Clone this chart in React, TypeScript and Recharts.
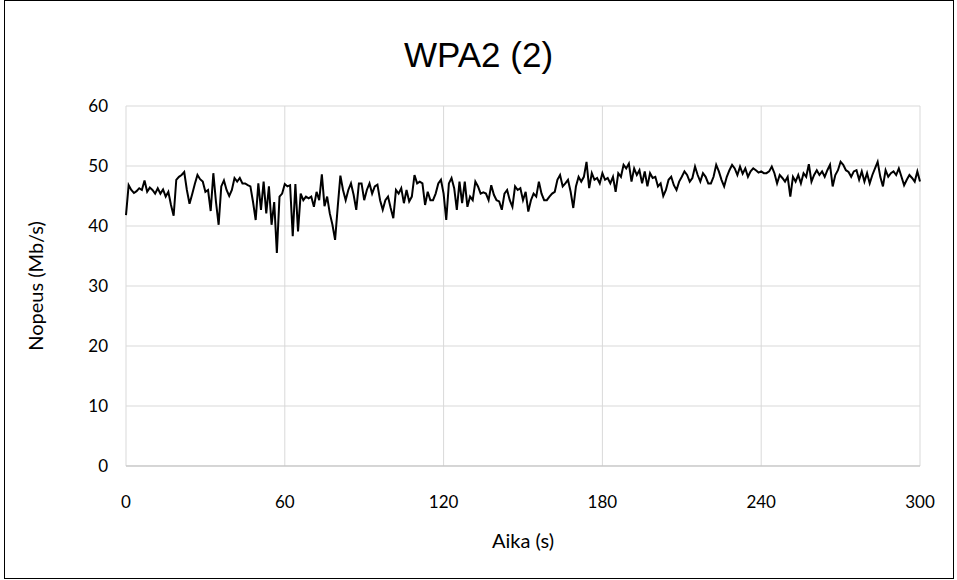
import { LineChart, Line, XAxis, YAxis, CartesianGrid } from 'recharts';

// Nopeus (Mb/s), one reading per second, split by minute
const minute0 = [
  41.8, 46.8, 46.0, 45.5, 45.8, 46.3, 46.0, 47.6, 45.7, 46.4,
  46.0, 45.4, 46.3, 45.4, 46.1, 44.9, 45.7, 43.5, 41.7, 47.7,
  48.2, 48.5, 49.0, 46.0, 43.7, 45.3, 47.0, 48.5, 47.8, 47.4,
  45.7, 46.0, 42.5, 48.8, 44.0, 40.2, 46.6, 47.6, 46.0, 45.0,
  46.0, 48.0, 47.4, 48.0, 47.1, 47.1, 46.8, 46.6, 44.0, 41.0,
  47.1, 42.7, 47.4, 42.1, 46.6, 40.2, 44.0, 35.5, 44.9, 45.4,
];
const minute1 = [
  47.0, 46.6, 46.8, 38.3, 47.0, 39.1, 45.4, 44.3, 44.9, 44.6,
  44.9, 43.2, 45.7, 44.3, 48.6, 43.3, 44.9, 42.1, 40.2, 37.7,
  43.2, 48.4, 46.0, 44.3, 46.0, 47.1, 45.2, 42.7, 47.1, 47.1,
  44.3, 46.0, 47.1, 45.4, 46.6, 46.9, 44.3, 42.7, 44.3, 44.9,
  43.0, 41.3, 46.0, 45.4, 46.3, 43.8, 46.0, 44.1, 44.9, 48.5,
  47.1, 47.4, 47.1, 43.5, 45.7, 44.3, 44.3, 45.4, 47.1, 47.7,
];
const minute2 = [
  45.4, 41.0, 47.1, 48.0, 46.3, 42.7, 47.4, 43.8, 47.4, 43.2,
  44.9, 44.3, 47.4, 46.6, 45.4, 45.6, 45.4, 44.3, 46.8, 45.2,
  44.3, 44.1, 42.7, 45.4, 46.0, 44.3, 43.2, 46.6, 46.0, 46.3,
  44.3, 45.7, 42.4, 44.3, 45.4, 44.9, 47.4, 45.4, 44.3, 44.3,
  44.9, 45.4, 45.7, 47.7, 48.5, 46.6, 47.1, 47.7, 45.7, 43.0,
  46.6, 48.2, 47.4, 48.2, 50.7, 46.3, 48.8, 47.7, 48.0, 47.1,
];
const minute3 = [
  48.8, 47.7, 48.0, 47.1, 48.2, 45.7, 48.8, 48.2, 50.2, 49.6,
  50.4, 47.4, 49.6, 48.5, 49.3, 47.1, 49.1, 46.6, 48.8, 48.0,
  48.2, 46.6, 47.1, 45.0, 46.0, 47.7, 48.2, 46.8, 46.0, 47.4,
  48.2, 49.1, 48.5, 47.4, 48.0, 49.9, 48.5, 47.4, 48.8, 48.2,
  47.1, 47.1, 48.2, 50.2, 49.1, 47.7, 46.6, 48.2, 49.3, 50.2,
  49.6, 48.5, 49.9, 48.7, 49.6, 48.2, 49.1, 49.6, 49.3, 48.9,
];
const minute4 = [
  49.1, 48.8, 48.8, 49.1, 49.9, 48.8, 47.1, 48.5, 48.0, 47.4,
  48.2, 44.9, 48.2, 47.4, 48.5, 47.1, 48.8, 48.2, 50.3, 47.4,
  48.5, 49.3, 48.5, 49.1, 48.2, 49.3, 50.2, 46.6, 48.5, 49.3,
  50.7, 50.2, 49.3, 49.0, 48.2, 49.1, 49.3, 47.7, 49.1, 47.4,
  48.8, 47.1, 48.5, 49.6, 50.7, 48.2, 46.6, 49.3, 48.2, 48.8,
  49.1, 48.5, 49.6, 48.2, 46.8, 47.7, 48.5, 48.0, 47.4, 49.1,
  47.4,
];

const xTicks = [0, 60, 120, 180, 240, 300];
const yTicks = [0, 10, 20, 30, 40, 50, 60];

const speeds = [...minute0, ...minute1, ...minute2, ...minute3, ...minute4];
const data = speeds.map((v, i) => ({ time: i, speed: v }));

const axisFont = 'Lato, "Open Sans", sans-serif';

export default function App() {
  return (
    <div style={{ position: 'absolute', left: 0, top: 0, width: 957, height: 580, background: '#fff' }}>
      <div
        style={{
          position: 'absolute', left: 4, top: 0, width: 948, height: 577,
          border: '1px solid #000',
        }}
      />
      <div
        style={{
          position: 'absolute', left: 0, top: 55, width: 957, textAlign: 'center',
          transform: 'translateY(-50%)',
          fontFamily: '"Liberation Sans", Arial, sans-serif', fontSize: 35, color: '#000',
        }}
      >
        WPA2 (2)
      </div>
      <div
        style={{
          position: 'absolute', left: 35, top: 286, transform: 'translate(-50%, -50%) rotate(-90deg)',
          whiteSpace: 'nowrap', fontFamily: axisFont, fontSize: 20, color: '#000',
        }}
      >
        Nopeus (Mb/s)
      </div>
      <div
        style={{
          position: 'absolute', left: 523, top: 540, transform: 'translate(-50%, -50%)',
          whiteSpace: 'nowrap', fontFamily: axisFont, fontSize: 20, color: '#000',
        }}
      >
        Aika (s)
      </div>
      <div style={{ position: 'absolute', left: 0, top: 0 }}>
        <LineChart width={957} height={580} data={data} margin={{ top: 106, right: 37, bottom: 54, left: 66 }}>
          <CartesianGrid stroke="#d9d9d9" strokeWidth={1} />
          <XAxis
            dataKey="time"
            type="number"
            domain={[0, 300]}
            ticks={xTicks}
            height={60}
            axisLine={{ stroke: '#bfbfbf' }}
            tickLine={false}
            tickSize={0}
            tickMargin={30}
            tick={{ fill: '#000', fontSize: 17, fontFamily: axisFont }}
          />
          <YAxis
            type="number"
            domain={[0, 60]}
            ticks={yTicks}
            width={60}
            axisLine={false}
            tickLine={false}
            tickSize={0}
            tickMargin={18}
            tick={{ fill: '#000', fontSize: 17, fontFamily: axisFont }}
          />
          <Line
            type="linear"
            dataKey="speed"
            stroke="#000"
            strokeWidth={2}
            dot={false}
            isAnimationActive={false}
          />
        </LineChart>
      </div>
    </div>
  );
}
